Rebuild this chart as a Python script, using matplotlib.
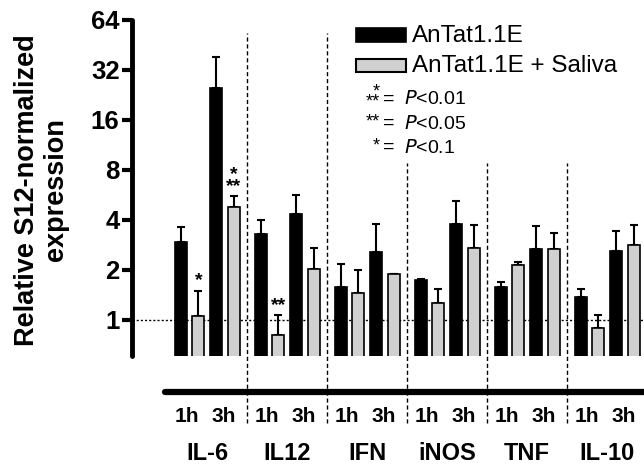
import numpy as np
import matplotlib
matplotlib.use('Agg')
import matplotlib.pyplot as plt
from matplotlib.patches import Rectangle

plt.rcParams['font.family'] = ['Liberation Sans', 'DejaVu Sans']

# data (relative expression, log2 scale)
genes = ['IL-6', 'IL12', 'IFN', 'iNOS', 'TNF', 'IL-10']
times = ['1h', '3h']
ant_1h = [2.93, 3.31, 1.59, 1.73, 1.59, 1.38]
ant_1h_err = [3.63, 4.0, 2.17, 1.77, 1.69, 1.54]
sal_1h = [1.06, 0.81, 1.46, 1.26, 2.15, 0.89]
sal_1h_err = [1.50, 1.07, 2.0, 1.53, 2.22, 1.07]
ant_3h = [25.1, 4.35, 2.55, 3.8, 2.69, 2.61]
ant_3h_err = [38.5, 5.64, 3.8, 5.2, 3.66, 3.42]
sal_3h = [4.8, 2.03, 1.89, 2.71, 2.67, 2.81]
sal_3h_err = [5.57, 2.71, 1.90, 3.71, 3.34, 3.75]
yticks = [1, 2, 4, 8, 16, 32, 64]
# significance marks: (gene index, series, text)
stars = [(0, 'sal_1h', '*'), (0, 'sal_3h', '*\n**'), (1, 'sal_1h', '**')]

W, H = 644, 467
fig = plt.figure(figsize=(W / 100, H / 100), dpi=100)
ax = fig.add_axes([132 / W, 1 - 356 / H, 1 - 132 / W, 336 / H])

ax.set_yscale('log', base=2)
ax.set_ylim(0.607, 64)
ax.set_xlim(-0.94, 5.46)

gx = np.arange(len(genes))
series = [
    ('ant_1h', ant_1h, ant_1h_err, -0.33, 'black'),
    ('sal_1h', sal_1h, sal_1h_err, -0.11, '#d0d0d0'),
    ('ant_3h', ant_3h, ant_3h_err, 0.11, 'black'),
    ('sal_3h', sal_3h, sal_3h_err, 0.33, '#d0d0d0'),
]
bw = 0.15
base = 0.5
pos = {}
for name, vals, errs, off, col in series:
    x = gx + off
    pos[name] = (x, vals, errs)
    vals = np.array(vals)
    errs = np.array(errs)
    ax.bar(x, vals - base, bottom=base, width=bw, color=col,
           edgecolor='black', linewidth=1.2, zorder=3)
    ax.errorbar(x, vals, yerr=[np.zeros_like(vals), errs - vals], fmt='none',
                ecolor='black', elinewidth=1.5, capsize=3, capthick=1.5, zorder=2)

for gi, name, txt in stars:
    x, vals, errs = pos[name]
    ax.annotate(txt, (x[gi], errs[gi]), xytext=(0, 1), textcoords='offset points',
                ha='center', va='bottom', fontsize=14, fontweight='bold',
                linespacing=0.6)

# reference line at 1
ax.axhline(1, color='black', linestyle=(0, (1.5, 1.5)), linewidth=1, zorder=1)

# spines / ticks
for s in ['top', 'right', 'bottom']:
    ax.spines[s].set_visible(False)
ax.spines['left'].set_linewidth(3.5)
ax.spines['left'].set_capstyle('round')
ax.set_yticks(yticks)
ax.set_yticklabels([str(t) for t in yticks])
ax.yaxis.set_minor_locator(matplotlib.ticker.NullLocator())
ax.tick_params(axis='y', width=3, length=7, labelsize=18.5, pad=2)
for lab in ax.get_yticklabels():
    lab.set_fontweight('bold')
ax.set_xticks([])

tr = ax.get_xaxis_transform()
# separators between genes
for i in range(len(genes) - 1):
    top = 0.961 if i < 2 else 0.574
    ax.plot([i + 0.5, i + 0.5], [-0.2, top], transform=tr, color='black',
            linestyle=(0, (3, 2)), linewidth=1, clip_on=False)

# baseline under bars
ax.plot([-0.525, 5.6], [-0.107, -0.107], transform=tr, color='black',
        linewidth=4.5, clip_on=False, solid_capstyle='round')

for i, g in enumerate(genes):
    ax.text(i - 0.25, -0.18, times[0], transform=tr, ha='center', va='center',
            fontsize=15, fontweight='bold')
    ax.text(i + 0.2, -0.18, times[1], transform=tr, ha='center', va='center',
            fontsize=15, fontweight='bold')
    ax.text(i, -0.29, g, transform=tr, ha='center', va='center',
            fontsize=17, fontweight='bold')

fig.text(42 / W, 1 - 190 / H, 'Relative S12-normalized\nexpression', rotation=90,
         ha='center', va='center', multialignment='center', fontsize=19.5,
         fontweight='bold', linespacing=1.15)

# legend
fig.add_artist(Rectangle((356 / W, 1 - 42 / H), 50 / W, 14 / H,
                         facecolor='black', edgecolor='black', linewidth=1.2,
                         transform=fig.transFigure))
fig.add_artist(Rectangle((356 / W, 1 - 72 / H), 50 / W, 13 / H,
                         facecolor='#d0d0d0', edgecolor='black', linewidth=1.5,
                         transform=fig.transFigure))
fig.text(412 / W, 1 - 36 / H, 'AnTat1.1E', ha='left', va='center', fontsize=17.5)
fig.text(412 / W, 1 - 66 / H, 'AnTat1.1E + Saliva', ha='left', va='center',
         fontsize=17.5)

plines = [('*\n**', 99, '0.01'), ('**', 124, '0.05'), ('*', 148, '0.1')]
for st, yy, p in plines:
    fig.text(380 / W, 1 - (yy - 2) / H, st, ha='right', va='center', fontsize=13,
             linespacing=0.5)
    fig.text(383 / W, 1 - yy / H, '= ', ha='left', va='center', fontsize=14)
    fig.text(404 / W, 1 - yy / H, r'$\it{P}$<' + p, ha='left', va='center',
             fontsize=14)

fig.savefig('out.png', dpi=100)
